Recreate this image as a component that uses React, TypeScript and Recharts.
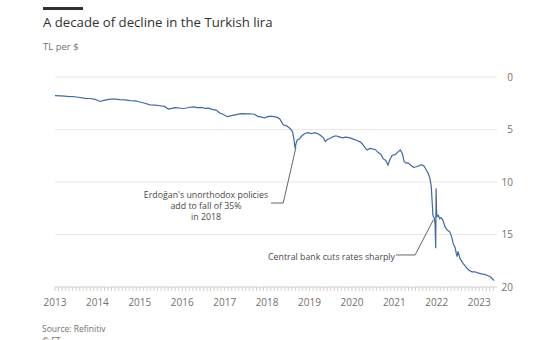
import React from 'react';
import { LineChart, Line, XAxis, YAxis, CartesianGrid, ReferenceLine } from 'recharts';

// decimal year -> TL per $
const dates = [
    2013.0, 2013.15, 2013.3, 2013.42, 2013.55, 2013.71, 2013.85, 2013.96,
    2014.06, 2014.15, 2014.3, 2014.42, 2014.53, 2014.65, 2014.77, 2014.9,
    2015.0, 2015.12, 2015.24, 2015.36, 2015.48, 2015.58, 2015.67, 2015.75, 2015.83, 2015.93,
    2016.02, 2016.1, 2016.18, 2016.27, 2016.35, 2016.45, 2016.54, 2016.62, 2016.7, 2016.8, 2016.89, 2016.96,
    2017.06, 2017.14, 2017.25, 2017.35, 2017.43, 2017.52, 2017.6, 2017.7, 2017.78, 2017.88, 2017.94,
    2018.0, 2018.07, 2018.16, 2018.24, 2018.3, 2018.38, 2018.46, 2018.54, 2018.6, 2018.64, 2018.66,
    2018.68, 2018.71, 2018.76, 2018.82, 2018.9, 2018.96,
    2019.05, 2019.12, 2019.2, 2019.27, 2019.33, 2019.37, 2019.42, 2019.49, 2019.55, 2019.62, 2019.7,
    2019.78, 2019.85, 2019.93,
    2020.03, 2020.12, 2020.2, 2020.25, 2020.32, 2020.36, 2020.42, 2020.48, 2020.55, 2020.62, 2020.68,
    2020.74, 2020.8, 2020.85, 2020.89, 2020.95,
    2021.02, 2021.08, 2021.14, 2021.19, 2021.23, 2021.28, 2021.33, 2021.4, 2021.46, 2021.52, 2021.58,
    2021.64, 2021.7, 2021.76, 2021.8, 2021.84, 2021.87, 2021.89, 2021.91, 2021.94, 2021.96, 2021.975,
    2021.985, 2021.995,
    2022.01, 2022.04, 2022.07, 2022.1, 2022.14, 2022.2, 2022.25, 2022.3, 2022.35, 2022.39, 2022.43,
    2022.46, 2022.48, 2022.5, 2022.55, 2022.62, 2022.69, 2022.76, 2022.83, 2022.9, 2022.97,
    2023.05, 2023.12, 2023.2, 2023.27, 2023.35,
];

const rates = [
    1.78, 1.8, 1.84, 1.86, 1.93, 2.03, 2.05, 2.15,
    2.33, 2.22, 2.1, 2.1, 2.15, 2.18, 2.25, 2.28,
    2.38, 2.5, 2.66, 2.68, 2.74, 2.8, 3.05, 2.98, 2.92, 2.95,
    3.0, 2.95, 2.88, 2.85, 2.92, 2.9, 2.98, 2.97, 3.08, 3.15, 3.45, 3.55,
    3.78, 3.7, 3.6, 3.52, 3.48, 3.52, 3.5, 3.55, 3.75, 3.82, 3.9,
    3.8, 3.72, 3.78, 3.85, 4.0, 4.55, 4.65, 4.9, 5.2, 6.1, 6.8,
    6.4, 6.0, 5.9, 5.6, 5.36, 5.3,
    5.4, 5.3, 5.4, 5.6, 5.8, 6.15, 5.95, 5.84, 5.7, 5.6, 5.7,
    5.8, 5.72, 5.78,
    5.92, 6.05, 6.2, 6.4, 6.8, 6.95, 6.8, 6.85, 6.9, 7.2, 7.35,
    7.8, 7.95, 8.4, 7.9, 7.45,
    7.4, 7.15, 6.95, 7.3, 8.05, 8.2, 8.2, 8.45, 8.6, 8.55, 8.45,
    8.35, 8.5, 8.9, 9.2, 9.7, 10.4, 11.8, 13.2, 13.4, 14.0, 16.3,
    10.6, 12.8,
    13.3, 13.2, 13.5, 13.4, 13.6, 14.3, 14.6, 14.7, 15.2, 15.9, 16.2,
    16.8, 17.1, 16.6, 17.3, 17.75, 18.1, 18.4, 18.55, 18.55, 18.65,
    18.75, 18.8, 18.9, 19.05, 19.4,
];

const yTicks = [0, 5, 10, 15, 20];
const firstYear = 2013;
const monthCount = 125;

const data = dates.map((t, i) => ({ t, rate: rates[i] }));
const monthTicks = Array.from({ length: monthCount }, (_, i) => firstYear + i / 12);

const GREY = '#76706b';

const XTick = (props: any) => {
    const { x, y, payload } = props;
    const v = payload.value;
    const isYear = Math.abs(v - Math.round(v)) < 1e-6;
    return (
        <g>
            <line x1={x} y1={y} x2={x} y2={y + 4} stroke="#d3cfcc" strokeWidth={1} />
            {isYear && (
                <text x={x} y={y + 19} textAnchor="middle" fill={GREY} fontSize={10}>
                    {Math.round(v)}
                </text>
            )}
        </g>
    );
};

const YTick = (props: any) => {
    const { x, y, payload } = props;
    return (
        <text x={x + 16} y={y + 3.5} textAnchor="end" fill={GREY} fontSize={10}>
            {payload.value}
        </text>
    );
};

const leader = { stroke: '#5a5450', strokeWidth: 0.9 };

const App: React.FC = () => {
    return (
        <div style={{ position: 'relative', width: 540, height: 340, background: '#fff', fontFamily: '"Open Sans", sans-serif', overflow: 'hidden' }}>
            <style>{'body{margin:0}'}</style>
            <div style={{ position: 'absolute', left: 43, top: 7, width: 40, height: 2.5, background: '#33302e' }} />
            <div style={{ position: 'absolute', left: 43, top: 13, fontSize: 13.2, lineHeight: '18px', color: '#33302e', whiteSpace: 'nowrap' }}>
                A decade of decline in the Turkish lira
            </div>
            <div style={{ position: 'absolute', left: 43, top: 40, fontSize: 9.5, lineHeight: '13px', color: GREY }}>TL per $</div>
            <div style={{ position: 'absolute', left: 0, top: 0 }}>
                <LineChart width={540} height={340} data={data} margin={{ top: 77, right: 13, bottom: 23, left: 55 }}>
                    <CartesianGrid horizontal vertical={false} stroke="#ebe8e6" />
                    <XAxis
                        type="number"
                        dataKey="t"
                        domain={[2013, 2023.42]}
                        ticks={monthTicks}
                        interval={0}
                        tick={<XTick />}
                        tickLine={false}
                        tickSize={0}
                        tickMargin={0}
                        axisLine={{ stroke: '#dcd8d5' }}
                        height={30}
                    />
                    <YAxis
                        orientation="right"
                        reversed
                        domain={[0, 20]}
                        ticks={yTicks}
                        axisLine={false}
                        tickLine={false}
                        tickSize={0}
                        tickMargin={0}
                        tick={<YTick />}
                        width={30}
                    />
                    <ReferenceLine segment={[{ x: 2018.09, y: 12.0 }, { x: 2018.38, y: 12.0 }]} {...leader} />
                    <ReferenceLine segment={[{ x: 2018.38, y: 12.0 }, { x: 2018.68, y: 6.7 }]} {...leader} />
                    <ReferenceLine segment={[{ x: 2021.04, y: 16.95 }, { x: 2021.49, y: 16.95 }]} {...leader} />
                    <ReferenceLine segment={[{ x: 2021.49, y: 16.95 }, { x: 2021.92, y: 13.6 }]} {...leader} />
                    <Line
                        type="linear"
                        dataKey="rate"
                        stroke="#4069a3"
                        strokeWidth={1.2}
                        dot={false}
                        isAnimationActive={false}
                    />
                </LineChart>
            </div>
            <svg width={540} height={340} style={{ position: 'absolute', left: 0, top: 0, pointerEvents: 'none' }}>
                <text textAnchor="middle" fill="#4d4845" fontSize={8.8}>
                    <tspan x={206} y={198}>Erdoğan's unorthodox policies</tspan>
                    <tspan x={206} y={209}>add to fall of 35%</tspan>
                    <tspan x={206} y={220}>in 2018</tspan>
                </text>
                <text x={395} y={260} textAnchor="end" fill="#4d4845" fontSize={8.8}>
                    Central bank cuts rates sharply
                </text>
            </svg>
            <div style={{ position: 'absolute', left: 42, top: 323, fontSize: 8.5, lineHeight: '11px', color: GREY }}>Source: Refinitiv</div>
            <div style={{ position: 'absolute', left: 42, top: 335, fontSize: 8.5, lineHeight: '11px', color: GREY }}>© FT</div>
        </div>
    );
};

export default App;
